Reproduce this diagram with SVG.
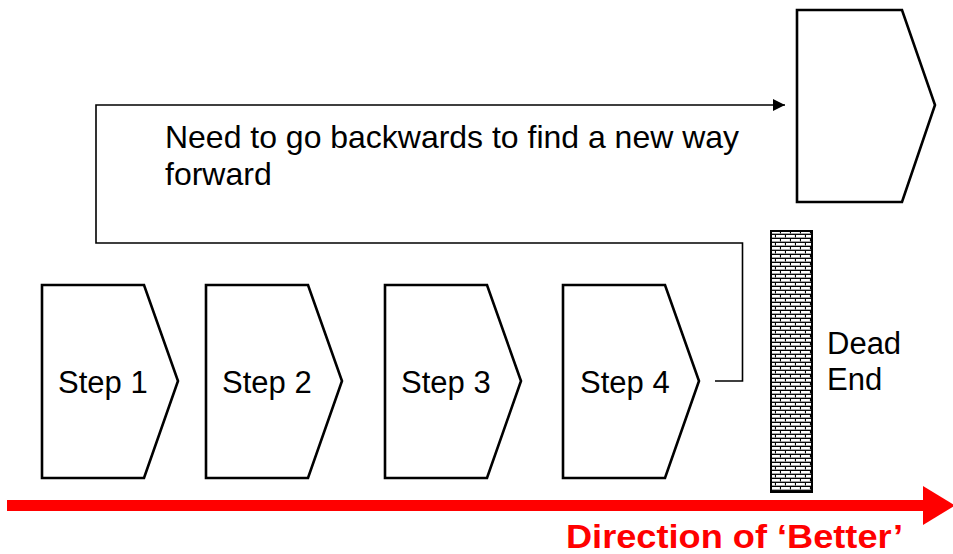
<svg xmlns="http://www.w3.org/2000/svg" width="953" height="554" viewBox="0 0 953 554">
<style>
.shape{fill:#fff;stroke:#000;stroke-width:2.6;stroke-linejoin:miter}
.lbl{font-family:"Liberation Sans",Arial,sans-serif;font-size:31px;fill:#000}
.conn{fill:none;stroke:#000;stroke-width:1.6}
</style>
<defs>
<pattern id="brick" width="10" height="8" patternUnits="userSpaceOnUse" x="770" y="230">
<rect width="10" height="8" fill="#e8e8e8"/>
<rect x="1" y="1" width="8" height="2.2" fill="#fff"/>
<rect x="0" y="5" width="4" height="2.2" fill="#fff"/>
<rect x="6" y="5" width="4" height="2.2" fill="#fff"/>
<path d="M0 0.5H10M0 4.5H10M0.5 0V4M5.5 4V8" stroke="#000" stroke-width="1"/>
<path d="M0 3.6H10M0 7.6H10" stroke="#888" stroke-width="0.8"/>
</pattern>
<marker id="ah" viewBox="0 0 10 10" refX="10" refY="5" markerWidth="16" markerHeight="12" markerUnits="userSpaceOnUse" orient="auto">
<path d="M0 0L10 5L0 10Z" fill="#000"/>
</marker>
</defs>
<g id="step1"><polygon class="shape" points="42,285 144,285 178,381 144,478 42,478"/><text class="lbl" x="58" y="393">Step 1</text></g>
<g id="step2"><polygon class="shape" points="206,285 308,285 342,381 308,478 206,478"/><text class="lbl" x="222" y="393">Step 2</text></g>
<g id="step3"><polygon class="shape" points="385,285 487,285 521,381 487,478 385,478"/><text class="lbl" x="401" y="393">Step 3</text></g>
<g id="step4"><polygon class="shape" points="563,285 665,285 699,381 665,478 563,478"/><text class="lbl" x="580" y="393">Step 4</text></g>
<g id="target"><polygon class="shape" points="797,10 902,10 935,105 902,202 797,202"/></g>
<g id="wall"><rect x="771" y="231" width="41" height="261" fill="url(#brick)" stroke="#000" stroke-width="2"/></g>
<g id="deadend"><text class="lbl" x="827" y="354">Dead</text><text class="lbl" x="827" y="390">End</text></g>
<g id="note"><text class="lbl" x="165" y="148" style="font-size:32px" textLength="574" lengthAdjust="spacingAndGlyphs">Need to go backwards to find a new way</text><text class="lbl" x="165" y="185" style="font-size:32px">forward</text></g>
<g id="connectors">
<polyline class="conn" points="715,381 742.5,381 742.5,243 96,243 96,105 785,105" marker-end="url(#ah)"/>
<g id="better">
<rect x="7" y="500" width="918" height="11" fill="#f00"/>
<polygon points="923,486 955,505.5 923,525" fill="#f00"/>
</g>
</g>
<text x="566" y="548" font-family="Liberation Sans,Arial,sans-serif" font-weight="bold" font-size="34" fill="#f00" textLength="337" lengthAdjust="spacingAndGlyphs">Direction of ‘Better’</text>
</svg>
